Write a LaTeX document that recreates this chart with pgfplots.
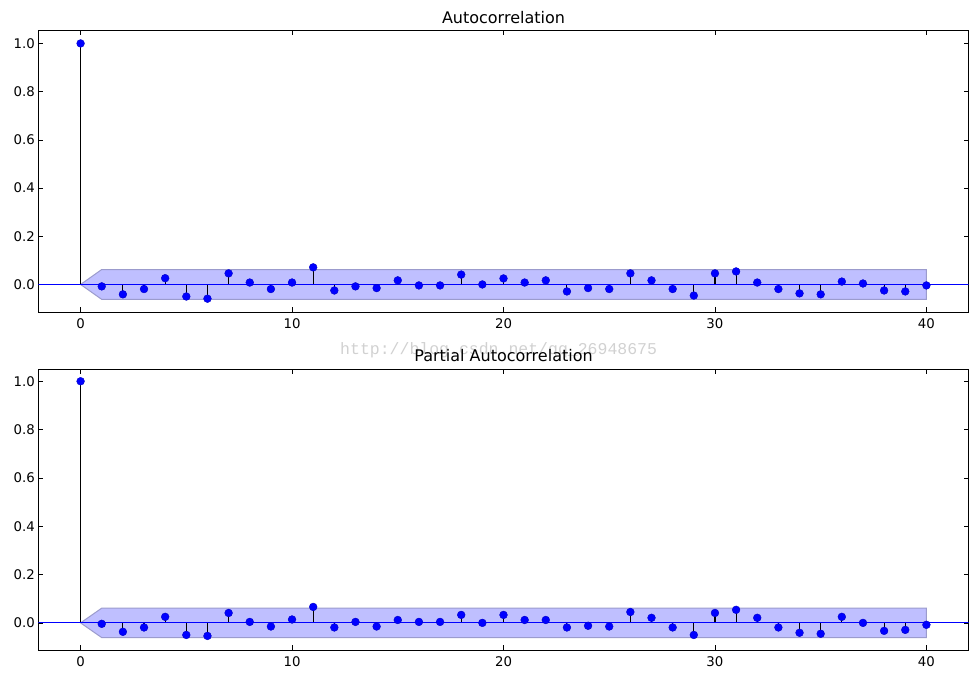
\documentclass[border=0pt]{standalone}
\usepackage{pgfplots}
\pgfplotsset{compat=1.18}
\usepackage{pgfplotstable}
\usepackage{fontspec}
\setmainfont{DejaVu Sans}
\newfontfamily\wmfont{Liberation Mono}

\definecolor{mblue}{RGB}{0,0,255}
\definecolor{medge}{RGB}{0,0,200}
\definecolor{bandfill}{RGB}{191,191,255}
\definecolor{bandedge}{RGB}{155,155,205}

\pgfplotstableread{
lag val
0 1.0
1 -0.008
2 -0.041
3 -0.019
4 0.026
5 -0.050
6 -0.059
7 0.046
8 0.008
9 -0.019
10 0.008
11 0.071
12 -0.025
13 -0.008
14 -0.015
15 0.017
16 -0.004
17 -0.004
18 0.041
19 0.000
20 0.025
21 0.008
22 0.017
23 -0.029
24 -0.015
25 -0.019
26 0.046
27 0.017
28 -0.019
29 -0.046
30 0.046
31 0.054
32 0.008
33 -0.019
34 -0.037
35 -0.041
36 0.012
37 0.004
38 -0.025
39 -0.029
40 -0.004
}\acfdata

\pgfplotstableread{
lag val
0 1.0
1 -0.004
2 -0.037
3 -0.019
4 0.025
5 -0.050
6 -0.054
7 0.041
8 0.004
9 -0.015
10 0.014
11 0.066
12 -0.019
13 0.004
14 -0.015
15 0.012
16 0.004
17 0.004
18 0.033
19 0.000
20 0.033
21 0.012
22 0.012
23 -0.019
24 -0.012
25 -0.015
26 0.045
27 0.021
28 -0.019
29 -0.050
30 0.041
31 0.054
32 0.021
33 -0.019
34 -0.041
35 -0.045
36 0.025
37 0.000
38 -0.033
39 -0.029
40 -0.008
}\pacfdata

\pgfplotsset{
  acfstyle/.style={
    scale only axis,
    width=930.4pt,
    xmin=-2, xmax=42,
    xtick={0,10,20,30,40},
    ytick={0,0.2,0.4,0.6,0.8,1.0},
    /pgf/number format/assume math mode=true,
    yticklabel style={/pgf/number format/.cd, fixed, fixed zerofill, precision=1},
    tick label style={font=\fontsize{13.3}{16}\selectfont},
    xticklabel style={anchor=base, yshift=-16.5pt},
    title style={font=\fontsize{16}{19}\selectfont, at={(0.5,1)}, anchor=base},
    axis line style={line width=1.1pt},
    major tick length=5pt,
    every tick/.style={black, line width=0.6pt},
  },
  bandstyle/.style={fill=bandfill, draw=bandedge, line width=1pt},
  stemstyle/.style={ycomb, black, line width=1.1pt, no markers},
  markstyle/.style={only marks, mark=*, mark size=3.9pt, mark options={fill=mblue, draw=medge, line width=0.4pt}},
}

\begin{document}
\begin{tikzpicture}
\node[anchor=base west, text=black!18, font=\wmfont\fontsize{16.5}{18}\selectfont, inner sep=0pt] at (340pt,325pt) {http://blog.csdn.net/qq\_26948675};

\begin{axis}[acfstyle, at={(38.3pt,367.7pt)}, anchor=south west,
  height=282pt, ymin=-0.1155, ymax=1.0545, title={Autocorrelation},
  title style={yshift=0.3pt}]
  \addplot[bandstyle] coordinates {(0,0) (1,0.062) (40,0.062) (40,-0.062) (1,-0.062) (0,0)};
  \addplot[stemstyle] table[x=lag, y=val] {\acfdata};
  \addplot[mblue, line width=1pt] coordinates {(-2,0) (42,0)};
  \addplot[markstyle] table[x=lag, y=val] {\acfdata};
\end{axis}

\begin{axis}[acfstyle, at={(38.3pt,29.7pt)}, anchor=south west,
  height=281pt, ymin=-0.1135, ymax=1.0495, title={Partial Autocorrelation},
  title style={yshift=1.5pt}]
  \addplot[bandstyle] coordinates {(0,0) (1,0.061) (40,0.061) (40,-0.061) (1,-0.061) (0,0)};
  \addplot[stemstyle] table[x=lag, y=val] {\pacfdata};
  \addplot[mblue, line width=1pt] coordinates {(-2,0) (42,0)};
  \addplot[markstyle] table[x=lag, y=val] {\pacfdata};
\end{axis}

\pgfresetboundingbox
\path (0pt,0pt) rectangle (977pt,680pt);
\end{tikzpicture}
\end{document}
